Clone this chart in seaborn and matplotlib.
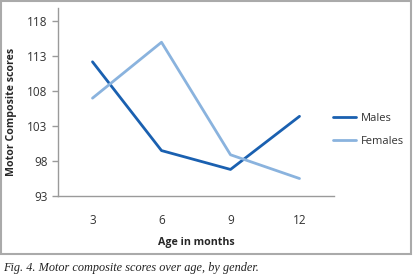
import matplotlib
matplotlib.use("Agg")
import matplotlib.pyplot as plt
import pandas as pd
import seaborn as sns
from matplotlib.patches import Rectangle
from matplotlib.lines import Line2D

# Data
ages = [3, 6, 9, 12]
males = [112.2, 99.5, 96.8, 104.4]
females = [107.0, 115.0, 98.9, 95.5]
y_ticks = [93, 98, 103, 108, 113, 118]

df = pd.DataFrame({
    'age': ages * 2,
    'score': males + females,
    'gender': ['Males'] * len(ages) + ['Females'] * len(ages),
})

sns.set_style('white')
plt.rcParams['font.family'] = ['Open Sans', 'DejaVu Sans']

fig = plt.figure(figsize=(4.14, 2.76), dpi=100)
ax = fig.add_axes([58 / 414, 80 / 276, 276 / 414, 188 / 276])

palette = {'Males': '#1a60b0', 'Females': '#8ab3de'}
sns.lineplot(data=df, x='age', y='score', hue='gender', palette=palette,
             linewidth=2, ax=ax, legend=False)

ax.set_xlim(1.5, 13.5)
ax.set_ylim(93, 119.9)
ax.set_xticks(ages)
ax.set_xticklabels([str(a) for a in ages])
ax.set_xticks([4.5, 7.5, 10.5, 13.5], minor=True)
ax.set_yticks(y_ticks)

for s in ['top', 'right']:
    ax.spines[s].set_visible(False)
for s in ['left', 'bottom']:
    ax.spines[s].set_color('#9a9a9a')
    ax.spines[s].set_linewidth(1)

ax.tick_params(axis='x', which='major', length=0, pad=13, labelsize=8.5, colors='#333333')
ax.tick_params(axis='x', which='minor', direction='in', length=3, color='#9a9a9a', width=1)
ax.tick_params(axis='y', which='major', direction='out', length=4, color='#9a9a9a',
               width=1, labelsize=8.5, labelcolor='#333333', left=True)

ax.set_xlabel('Age in months', fontsize=7.7, fontweight='bold', labelpad=7)
ax.set_ylabel('Motor Composite scores', fontsize=7.6, fontweight='bold')
ax.yaxis.set_label_coords(-0.147, 0.447)

# legend to the right
handles = [Line2D([], [], color=palette[g], linewidth=2) for g in ['Males', 'Females']]
fig.legend(handles, ['Males', 'Females'], loc='upper left',
           bbox_to_anchor=(323 / 414, 1 - 103 / 276), frameon=False,
           fontsize=8, handlelength=2.1, handletextpad=0.45, labelspacing=1.1,
           labelcolor='#333333')

# frame around the chart
fig.add_artist(Rectangle((1 / 414, 1 - 254 / 276), 410 / 414, 253 / 276,
                         transform=fig.transFigure, fill=False,
                         edgecolor='#aaaaaa', linewidth=1.5))

fig.text(3 / 414, 1 - 268 / 276, 'Fig. 4. Motor composite scores over age, by gender.',
         family=['Liberation Serif', 'DejaVu Serif'], style='italic',
         fontsize=8.8, va='center', ha='left', color='#222222')

fig.savefig('out.png', dpi=100)
